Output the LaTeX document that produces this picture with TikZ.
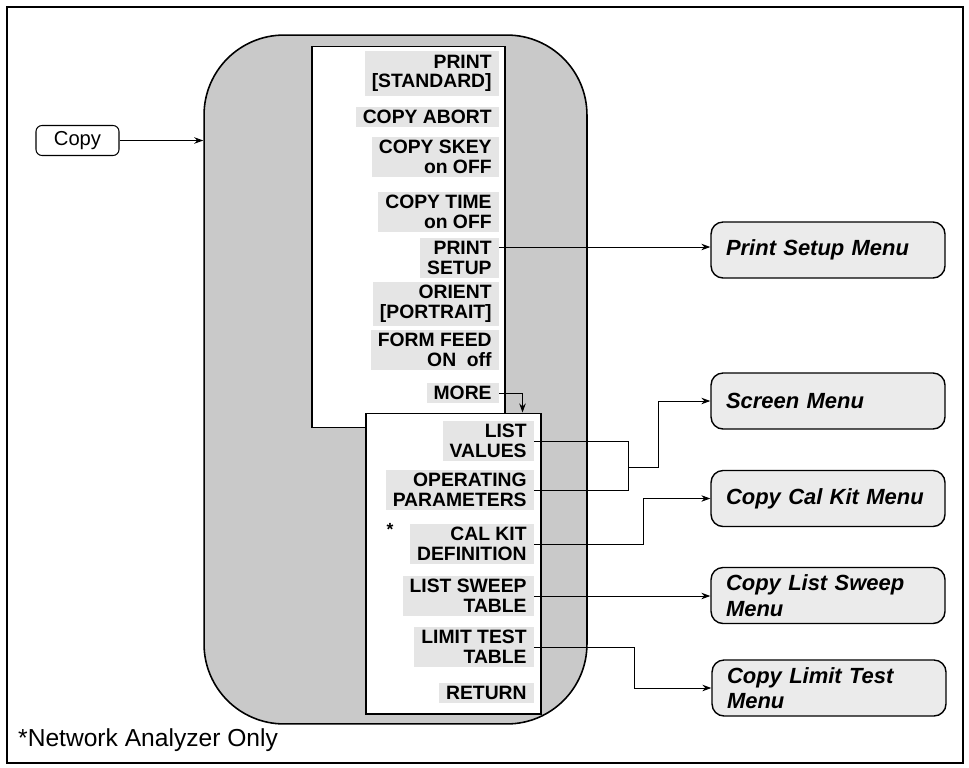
\documentclass[tikz,border=0pt]{standalone}
\usepackage{fontspec}
\setmainfont{Liberation Sans}
\usetikzlibrary{arrows.meta,calc,positioning}

\begin{document}
\begin{tikzpicture}[
  x=0.02cm, y=-0.02cm,
  >=Stealth,
  conn/.style={draw=black, line width=0.5pt, -{Stealth[length=1.8mm, width=1.3mm]}},
  wire/.style={draw=black, line width=0.5pt},
  region/.style={draw=black, line width=0.9pt, fill=black!21, rounded corners=1.6cm, inner sep=0pt},
  panel/.style={draw=black, line width=0.6pt, fill=white, inner sep=0pt},
  keylab/.style={anchor=east, fill=black!10, inner xsep=4pt, inner ysep=2pt, align=right,
    font=\bfseries\fontsize{11}{11.2}\selectfont},
  submenu/.style={draw=black, line width=0.8pt, fill=black!8, rounded corners=0.24cm,
    minimum width=4.68cm, minimum height=1.12cm, text width=4.08cm, inner xsep=0.3cm,
    inner ysep=2pt, align=left, font=\bfseries\itshape\fontsize{12.5}{14.5}\selectfont}
]
\useasboundingbox (0,0) rectangle (969,767);
\draw[line width=0.6pt] (7,7) rectangle (963,763);

% menu region and softkey panels
\node[region, minimum width=7.66cm, minimum height=13.78cm] (menu) at (395.5,379.5) {};
\node[panel, minimum width=3.86cm, minimum height=7.64cm] (uppanel) at (408.5,237) {};
\node[panel, minimum width=3.5cm, minimum height=6.02cm] (lowpanel) at (453.5,563.5) {};

\node[draw, line width=0.6pt, rounded corners=0.12cm, minimum width=1.66cm, minimum height=0.58cm,
  font=\fontsize{11.5}{13}\selectfont] (copy) at (77.5,140.5) {Copy};
\draw[conn] (copy.east) -- (copy.east -| menu.west);

% first page of keys
\node[keylab] (pstd) at (499,73.5) {PRINT\\{}[STANDARD]};
\node[keylab] (abort) at (499,117) {COPY ABORT};
\node[keylab] (skey) at (499,157) {COPY SKEY\\on OFF};
\node[keylab] (ctime) at (499,212) {COPY TIME\\on OFF};
\node[keylab] (psetup) at (499,258) {PRINT\\SETUP};
\node[keylab] (orient) at (499,304) {ORIENT\\{}[PORTRAIT]};
\node[keylab] (ffeed) at (499,350) {FORM FEED\\ON\ \ off};
\node[keylab] (more) at (499,393) {MORE};

% second page of keys
\node[keylab] (listval) at (534,441) {LIST\\VALUES};
\node[keylab] (oppar) at (534,490) {OPERATING\\PARAMETERS};
\node[keylab] (calkit) at (534,544) {CAL KIT\\DEFINITION};
\node[font=\bfseries\fontsize{10}{10}\selectfont, inner sep=0pt] (star) at (390,529) {*};
\node[keylab] (sweep) at (534,596) {LIST SWEEP\\TABLE};
\node[keylab] (limit) at (534,647) {LIMIT TEST\\TABLE};
\node[keylab] (ret) at (534,693) {RETURN};

% sub menus
\node[submenu] (printmenu) at (828,250) {Print Setup Menu};
\node[submenu] (screen) at (828,401) {Screen Menu};
\node[submenu] (calmenu) at (828,498.5) {Copy Cal Kit Menu};
\node[submenu] (sweepmenu) at (828,595.5) {Copy List Sweep\\Menu};
\node[submenu] (limitmenu) at (829,688) {Copy Limit Test\\Menu};

\coordinate (psout) at ([yshift=0.22cm]psetup.east);
\draw[conn] (psout) -- (psout -| printmenu.west);
\draw[conn] (more.east) -| ([xshift=-0.38cm]lowpanel.north east);

\coordinate (lvjoin) at (628,467);
\draw[wire] (listval.east) -| (lvjoin);
\draw[wire] (oppar.east) -| (lvjoin);
\draw[conn] (lvjoin) -- ++(30,0) |- (screen.west);
\draw[conn] (calkit.east) -- ++(109,0) |- (calmenu.west);
\draw[conn] (sweep.east) -- (sweep.east -| sweepmenu.west);
\draw[conn] (limit.east) -- ++(100,0) |- (limitmenu.west);

\node[anchor=west, font=\fontsize{14}{16}\selectfont] (note) at (12,740) {*Network Analyzer Only};
\end{tikzpicture}
\end{document}
